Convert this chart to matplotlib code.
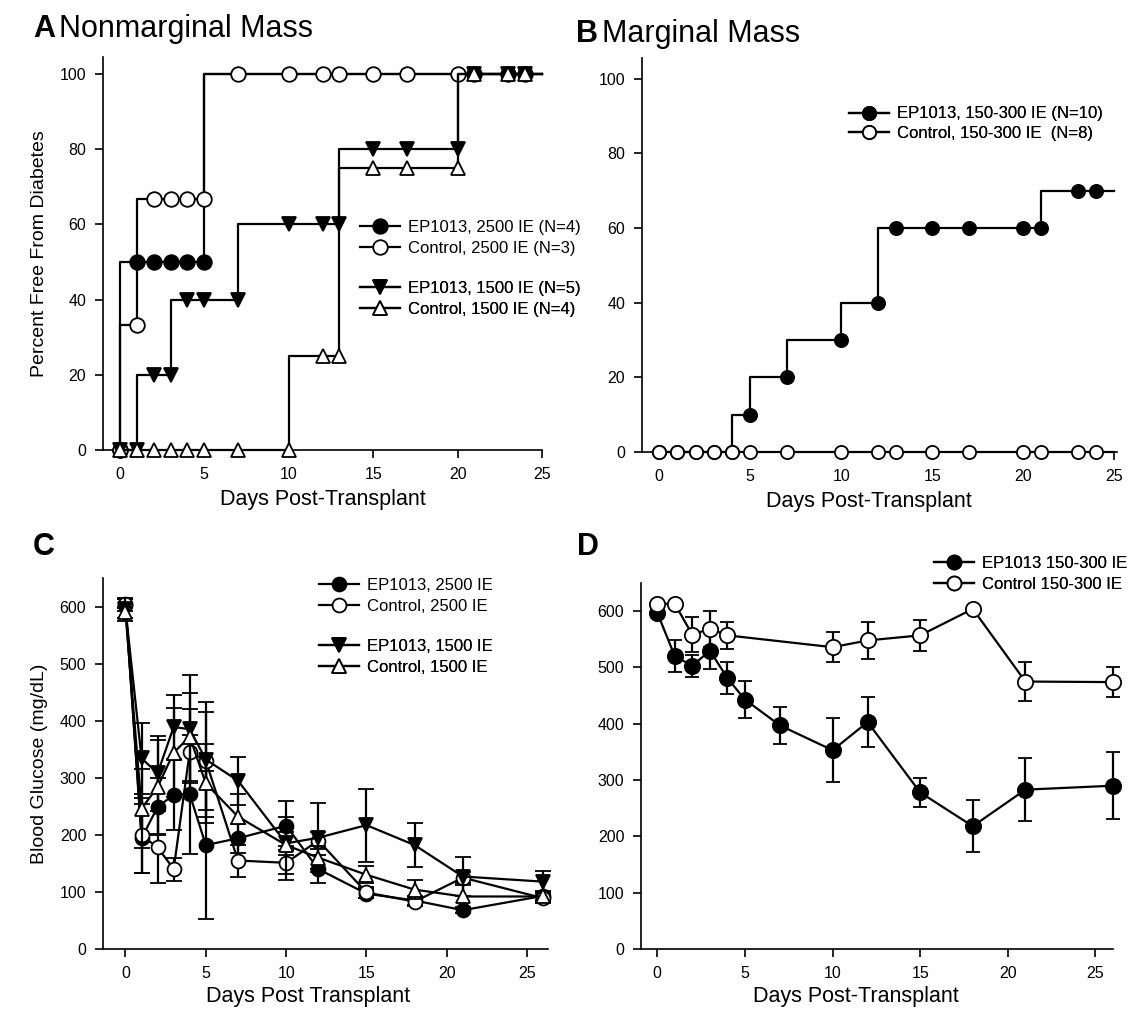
import matplotlib
matplotlib.use('Agg')
import matplotlib.pyplot as plt
from matplotlib.lines import Line2D

plt.rcParams['font.family'] = ['Liberation Sans', 'DejaVu Sans']

# ---- Panel A: nonmarginal mass, percent free from diabetes ----
a_ep2500_days = [0, 1, 2, 3, 4, 5, 21, 23, 24]
a_ep2500_pct = [0, 50, 50, 50, 50, 50, 100, 100, 100]
a_ctl2500_days = [0, 1, 2, 3, 4, 5, 7, 10, 12, 13, 15, 17, 20]
a_ctl2500_pct = [0, 33.3, 66.7, 66.7, 66.7, 66.7, 100, 100, 100, 100, 100, 100, 100]
a_ep1500_days = [0, 1, 2, 3, 4, 5, 7, 10, 12, 13, 15, 17, 20, 21, 23, 24]
a_ep1500_pct = [0, 0, 20, 20, 40, 40, 40, 60, 60, 60, 80, 80, 80, 100, 100, 100]
a_ctl1500_days = [0, 1, 2, 3, 4, 5, 7, 10, 12, 13, 15, 17, 20, 21, 23, 24]
a_ctl1500_pct = [0, 0, 0, 0, 0, 0, 0, 0, 25, 25, 75, 75, 75, 100, 100, 100]

# ---- Panel B: marginal mass ----
b_days = [0, 1, 2, 3, 4, 5, 7, 10, 12, 13, 15, 17, 20, 21, 23, 24]
b_ep_pct = [0, 0, 0, 0, 0, 10, 20, 30, 40, 60, 60, 60, 60, 60, 70, 70]
b_ctl_pct = [0, 0, 0, 0, 0, 0, 0, 0, 0, 0, 0, 0, 0, 0, 0, 0]

follow_up_end = 25

# ---- Panel C: blood glucose, nonmarginal ----
c_days = [0, 1, 2, 3, 4, 5, 7, 10, 12, 15, 18, 21, 26]
c_ep2500 = [603, 194, 249, 270, 271, 182, 194, 216, 140, 97, 85, 68, 93]
c_ep2500_err = [10, 60, 50, 61, 104, 129, 25, 43, 24, 8, 8, 5, 8]
c_ctl2500 = [605, 199, 178, 140, 346, 330, 155, 151, 190, 99, 83, 125, 89]
c_ctl2500_err = [8, 65, 63, 20, 74, 86, 28, 30, 15, 10, 8, 10, 8]
c_ep1500 = [595, 334, 308, 389, 385, 332, 295, 185, 195, 217, 182, 127, 118]
c_ep1500_err = [20, 62, 66, 56, 95, 101, 42, 20, 60, 64, 39, 35, 18]
c_ctl1500 = [590, 246, 284, 344, 372, 290, 232, 182, 160, 130, 104, 92, 92]
c_ctl1500_err = [10, 69, 82, 78, 77, 70, 40, 50, 20, 15, 17, 20, 8]

# ---- Panel D: blood glucose, marginal ----
d_ep_days = [0, 1, 2, 3, 4, 5, 7, 10, 12, 15, 18, 21, 26]
d_ep = [597, 520, 503, 530, 481, 443, 397, 353, 403, 278, 218, 283, 290]
d_ep_err = [0, 28, 20, 32, 28, 33, 33, 57, 45, 26, 46, 56, 60]
d_ctl_days = [0, 1, 2, 3, 4, 10, 12, 15, 18, 21, 26]
d_ctl = [613, 613, 558, 569, 557, 536, 548, 557, 604, 475, 474]
d_ctl_err = [0, 0, 31, 32, 24, 27, 33, 28, 0, 35, 26]

TICK_FS = 11.5
XLABEL_FS = 15.5
YLABEL_FS = 14
LEG_FS = 12
LW = 1.6

fig = plt.figure(figsize=(11.3, 10.14), dpi=100)
W, H = 1130.0, 1014.0


def add_axes(left, top, right, bottom):
    return fig.add_axes([left / W, 1 - bottom / H, (right - left) / W, (bottom - top) / H])


def style(ax):
    for s in ['top', 'right']:
        ax.spines[s].set_visible(False)
    for s in ['left', 'bottom']:
        ax.spines[s].set_linewidth(1.2)
    ax.tick_params(direction='out', length=6, width=1.2, labelsize=TICK_FS, pad=6)


def km(ax, days, vals, marker, fill, ms, z):
    xs = list(days) + [follow_up_end]
    ys = list(vals) + [vals[-1]]
    ax.step(xs, ys, where='pre', color='k', lw=LW, zorder=z, clip_on=False)
    ax.plot(days, vals, ls='none', marker=marker, ms=ms, mfc=fill, mec='k',
            mew=1.3, zorder=z + 0.5, clip_on=False)


def handle(marker, fill, ms):
    return Line2D([], [], color='k', lw=LW, marker=marker, ms=ms, mfc=fill, mec='k', mew=1.3)


def legend(ax, handles, labels, anchor, spacing=0.35):
    leg = ax.legend(handles, labels, loc='upper left', bbox_to_anchor=anchor, frameon=False,
                    fontsize=LEG_FS, handlelength=2.4, handletextpad=0.5, borderpad=0,
                    borderaxespad=0, labelspacing=spacing)
    ax.add_artist(leg)
    return leg


# Panel A
axA = add_axes(103, 57, 542, 450)
style(axA)
km(axA, a_ep2500_days, a_ep2500_pct, 'o', 'k', 10.5, 3)
km(axA, a_ctl2500_days, a_ctl2500_pct, 'o', 'w', 10.5, 4)
km(axA, a_ep1500_days, a_ep1500_pct, 'v', 'k', 10.5, 5)
km(axA, a_ctl1500_days, a_ctl1500_pct, '^', 'w', 10.5, 6)
axA.set_xlim(-1, 25)
axA.set_ylim(0, 104.5)
axA.set_xticks([0, 5, 10, 15, 20, 25])
axA.set_yticks([0, 20, 40, 60, 80, 100])
axA.set_xlabel('Days Post-Transplant', fontsize=XLABEL_FS)
axA.set_ylabel('Percent Free From Diabetes', fontsize=YLABEL_FS)
axA.xaxis.set_label_coords(0.5, -0.1)
axA.yaxis.set_label_coords(-0.125, 0.5)
legend(axA, [handle('o', 'k', 10.5), handle('o', 'w', 10.5)],
       ['EP1013, 2500 IE (N=4)', 'Control, 2500 IE (N=3)'], (0.585, 0.585))
legend(axA, [handle('v', 'k', 10.5), handle('^', 'w', 10.5)],
       ['EP1013, 1500 IE (N=5)', 'Control, 1500 IE (N=4)'], (0.585, 0.43))

# Panel B
axB = add_axes(642, 58, 1117, 452)
style(axB)
km(axB, b_days, b_ep_pct, 'o', 'k', 9.5, 3)
km(axB, b_days, b_ctl_pct, 'o', 'w', 9.5, 4)
axB.set_xlim(-0.95, 25.15)
axB.set_ylim(0, 105.5)
axB.set_xticks([0, 5, 10, 15, 20, 25])
axB.set_yticks([0, 20, 40, 60, 80, 100])
axB.set_xlabel('Days Post-Transplant', fontsize=XLABEL_FS)
axB.xaxis.set_label_coords(0.477, -0.1)
legend(axB, [handle('o', 'k', 9.5), handle('o', 'w', 9.5)],
       ['EP1013, 150-300 IE (N=10)', 'Control, 150-300 IE  (N=8)'], (0.435, 0.877), 0.25)

# Panel C
axC = add_axes(103, 578, 548, 949)
style(axC)
ekw = dict(color='k', lw=LW, elinewidth=LW, capsize=5.5, capthick=LW, mec='k', mew=1.3, clip_on=False)
axC.errorbar(c_days, c_ep2500, yerr=c_ep2500_err, marker='o', ms=10, mfc='k', zorder=3, **ekw)
axC.errorbar(c_days, c_ctl2500, yerr=c_ctl2500_err, marker='o', ms=10, mfc='w', zorder=4, **ekw)
axC.errorbar(c_days, c_ep1500, yerr=c_ep1500_err, marker='v', ms=10, mfc='k', zorder=5, **ekw)
axC.errorbar(c_days, c_ctl1500, yerr=c_ctl1500_err, marker='^', ms=10, mfc='w', zorder=6, **ekw)
axC.set_xlim(-1.4, 26.3)
axC.set_ylim(0, 650)
axC.set_xticks([0, 5, 10, 15, 20, 25])
axC.set_yticks([0, 100, 200, 300, 400, 500, 600])
axC.set_xlabel('Days Post Transplant', fontsize=XLABEL_FS)
axC.set_ylabel('Blood Glucose (mg/dL)', fontsize=YLABEL_FS)
axC.xaxis.set_label_coords(0.46, -0.1)
axC.yaxis.set_label_coords(-0.124, 0.5)
legend(axC, [handle('o', 'k', 10), handle('o', 'w', 10)],
       ['EP1013, 2500 IE', 'Control, 2500 IE'], (0.485, 1.0))
legend(axC, [handle('v', 'k', 10), handle('^', 'w', 10)],
       ['EP1013, 1500 IE', 'Control, 1500 IE'], (0.485, 0.835))

# Panel D
axD = add_axes(641, 583, 1113, 949)
style(axD)
ekw_d = dict(color='k', lw=LW, elinewidth=LW, capsize=5, capthick=LW, mec='k', mew=1.3, clip_on=False)
axD.errorbar(d_ep_days, d_ep, yerr=d_ep_err, marker='o', ms=11, mfc='k', zorder=3, **ekw_d)
axD.errorbar(d_ctl_days, d_ctl, yerr=d_ctl_err, marker='o', ms=11, mfc='w', zorder=4, **ekw_d)
axD.set_xlim(-0.93, 26.0)
axD.set_ylim(0, 650)
axD.set_xticks([0, 5, 10, 15, 20, 25])
axD.set_yticks([0, 100, 200, 300, 400, 500, 600])
axD.set_xlabel('Days Post-Transplant', fontsize=XLABEL_FS)
axD.xaxis.set_label_coords(0.455, -0.1)
legend(axD, [handle('o', 'k', 10), handle('o', 'w', 10)],
       ['EP1013 150-300 IE', 'Control 150-300 IE'], (0.62, 1.075), 0.4)

# panel titles
fig.text(33 / W, 1 - 37 / H, 'A', fontsize=22, fontweight='bold', ha='left', va='baseline')
fig.text(59 / W, 1 - 37 / H, 'Nonmarginal Mass', fontsize=22, ha='left', va='baseline')
fig.text(576 / W, 1 - 42 / H, 'B', fontsize=22, fontweight='bold', ha='left', va='baseline')
fig.text(602 / W, 1 - 42 / H, 'Marginal Mass', fontsize=22, ha='left', va='baseline')
fig.text(33 / W, 1 - 555 / H, 'C', fontsize=22, fontweight='bold', ha='left', va='baseline')
fig.text(577 / W, 1 - 555 / H, 'D', fontsize=22, fontweight='bold', ha='left', va='baseline')

fig.savefig('out.png', dpi=100)
